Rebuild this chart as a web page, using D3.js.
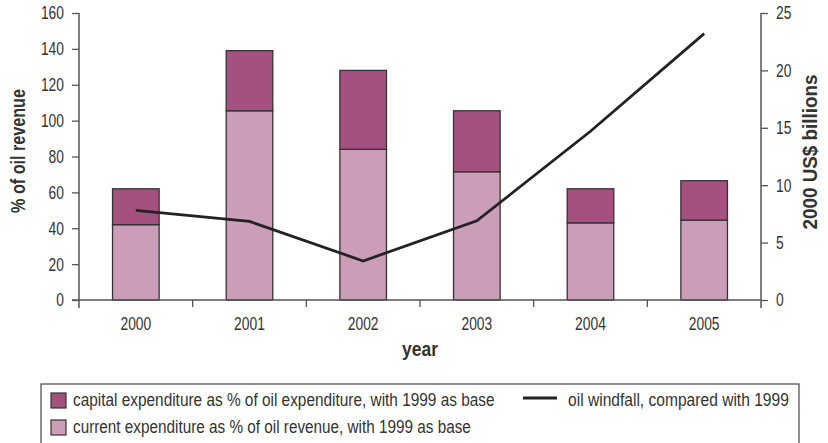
<!DOCTYPE html>
<html><head><meta charset="utf-8">
<script src="https://cdn.jsdelivr.net/npm/d3@7"></script>
<style>
body{margin:0;background:#fff;}
text{font-family:"Liberation Sans",Arial,sans-serif;fill:#333;}
</style></head>
<body><svg id="c" width="828" height="443"></svg>
<script>
const years = ["2000","2001","2002","2003","2004","2005"];
const currentExp = [42, 105.5, 84, 71.5, 43, 44.5];
const capitalExp = [20, 33.5, 44, 34, 19, 22];
const windfall = [7.8, 6.85, 3.4, 6.9, 14.7, 23.2];
const leftTicks = [0,20,40,60,80,100,120,140,160];
const rightTicks = [0,5,10,15,20,25];
const legendLabels = ["capital expenditure as % of oil expenditure, with 1999 as base",
  "current expenditure as % of oil revenue, with 1999 as base",
  "oil windfall, compared with 1999"];

const colCap = "#a5517f", colCur = "#cb9db9";
const svg = d3.select("#c");
const L = 79, R = 761, T = 13, B = 300;
const x = d3.scaleBand().domain(years).range([L, R]).paddingInner(0.59).paddingOuter(0.295);
const y = d3.scaleLinear().domain([0,160]).range([B, T]);
const y2 = d3.scaleLinear().domain([0,25]).range([B, T]);
const DIG = 7.7; // condensed digit width
const FS = 18.5;

// condensed text: natural glyphs scaled horizontally to a target length
function cond(parent, tx, ty, txt, fs, len, opts){
  opts = opts || {};
  const t = parent.append("text").attr("x",0).attr("y",0)
    .attr("text-anchor",opts.anchor||"start")
    .style("font-size",fs+"px").style("font-weight",opts.weight||"normal")
    .attr("fill",opts.fill||"#333").text(txt);
  if (opts.dy) t.attr("dy",opts.dy);
  const nat = t.node().getComputedTextLength();
  const sx = len / nat;
  t.attr("transform",`translate(${tx},${ty})${opts.rot?` rotate(${opts.rot})`:""} scale(${sx},1)`);
  return t;
}

// bars
const g = svg.append("g");
years.forEach((yr,i)=>{
  g.append("rect").attr("x",x(yr)).attr("width",x.bandwidth())
    .attr("y",y(currentExp[i])).attr("height",y(0)-y(currentExp[i]))
    .attr("fill",colCur).attr("stroke","#333").attr("stroke-width",1.3);
  g.append("rect").attr("x",x(yr)).attr("width",x.bandwidth())
    .attr("y",y(currentExp[i]+capitalExp[i])).attr("height",y(currentExp[i])-y(currentExp[i]+capitalExp[i]))
    .attr("fill",colCap).attr("stroke","#333").attr("stroke-width",1.3);
});

// axes
const axisCol = "#555";
const la = svg.append("g").attr("transform",`translate(${L},0)`)
  .call(d3.axisLeft(y).tickValues(leftTicks).tickSize(7).tickPadding(8));
const ra = svg.append("g").attr("transform",`translate(${R},0)`)
  .call(d3.axisRight(y2).tickValues(rightTicks).tickSize(7).tickPadding(8));
[la,ra].forEach(a=>{
  a.select(".domain").remove();
  a.selectAll(".tick line").attr("stroke",axisCol).attr("stroke-width",1.3);
  a.selectAll(".tick text").style("font-size",FS+"px").attr("fill","#333")
    .each(function(){
      const s = d3.select(this);
      const x0 = +s.attr("x");
      s.attr("x",0);
      const nat = this.getComputedTextLength();
      const sx = this.textContent.length*DIG / nat;
      s.attr("transform",`translate(${x0},0) scale(${sx},1)`);
    });
});
svg.append("line").attr("x1",L).attr("x2",L).attr("y1",T).attr("y2",B+8).attr("stroke",axisCol).attr("stroke-width",1.5);
svg.append("line").attr("x1",R).attr("x2",R).attr("y1",T).attr("y2",B+8).attr("stroke",axisCol).attr("stroke-width",1.5);
svg.append("line").attr("x1",L-7).attr("x2",R).attr("y1",B).attr("y2",B).attr("stroke",axisCol).attr("stroke-width",1.5);
const step = x.step();
years.slice(1).forEach(yr=>{
  const bx = x(yr) - step*x.paddingInner()/2;
  svg.append("line").attr("x1",bx).attr("x2",bx).attr("y1",B).attr("y2",B+7).attr("stroke",axisCol).attr("stroke-width",1.3);
});
years.forEach(yr=>{
  cond(svg, x(yr)+x.bandwidth()/2, 329.5, yr, FS, yr.length*DIG, {anchor:"middle"});
});

// line
const line = d3.line().x((d,i)=>x(years[i])+x.bandwidth()/2).y(d=>y2(d));
svg.append("path").datum(windfall).attr("d",line).attr("fill","none")
  .attr("stroke","#222").attr("stroke-width",2.8);

// titles
const tOpts = {anchor:"middle", weight:"bold", fill:"#222"};
cond(svg, 25, 151, "% of oil revenue", 21, 124, Object.assign({rot:-90}, tOpts));
cond(svg, 817, 152, "2000 US$ billions", 21, 155, Object.assign({rot:-90}, tOpts));
cond(svg, 420, 356, "year", 21, 36, tOpts);

// legend
const lg = svg.append("g");
lg.append("rect").attr("x",41).attr("y",384).attr("width",758).attr("height",62)
  .attr("fill","none").attr("stroke","#555").attr("stroke-width",1.3);
lg.append("rect").attr("x",51).attr("y",393).attr("width",15).attr("height",15)
  .attr("fill",colCap).attr("stroke","#333").attr("stroke-width",1.2);
lg.append("rect").attr("x",51).attr("y",420).attr("width",15).attr("height",15)
  .attr("fill",colCur).attr("stroke","#333").attr("stroke-width",1.2);
cond(lg, 73, 406, legendLabels[0], FS, 422);
cond(lg, 73, 433, legendLabels[1], FS, 398);
lg.append("line").attr("x1",523).attr("x2",557).attr("y1",398).attr("y2",398).attr("stroke","#222").attr("stroke-width",2.8);
cond(lg, 568, 406, legendLabels[2], FS, 221);
</script></body></html>
